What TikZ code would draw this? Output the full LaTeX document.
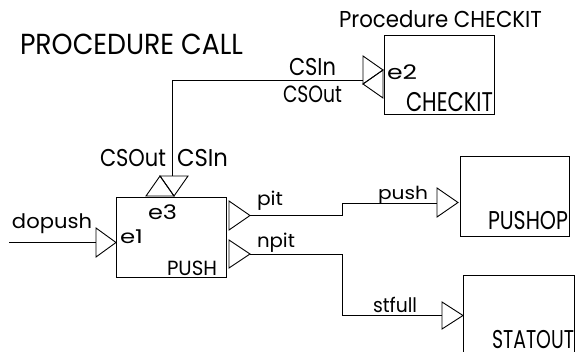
\documentclass[tikz,border=0pt]{standalone}
\usepackage{fontspec}
\usepackage{graphicx}
\setmainfont{Poppins}
\usetikzlibrary{calc}
% #1 = target width (pt), #2 = font size (pt), #3 = text
\newcommand{\fitt}[3]{{\fontsize{#2pt}{#2pt}\selectfont\resizebox{#1pt}{\height}{#3}}}
\tikzset{
  lbl/.style={anchor=base west, inner sep=0pt, outer sep=0pt},
  blk/.style={draw, rectangle, inner sep=0pt, line width=0.9pt},
  wire/.style={line width=0.9pt},
  port/.style={line width=0.9pt, line join=miter}
}
\begin{document}
\begin{tikzpicture}[x=1pt, y=-1pt]
\useasboundingbox (0,0) rectangle (575,352);
\clip (0,0) rectangle (575,352);

% blocks
\node[blk, minimum width=110pt, minimum height=80pt] (pushbox) at (171,237) {};
\node[blk, minimum width=110pt, minimum height=79pt] (checkbox) at (439,74.5) {};
\node[blk, minimum width=109pt, minimum height=80pt] (pushopbox) at (514.5,196) {};
\node[blk, minimum width=111pt, minimum height=90pt] (statbox) at (518.5,320) {};

% ports (triangles)
\draw[port] (96,228) -- (116,242.5) -- (96,257) -- cycle;           % e1
\draw[port] (146,196) -- (160,176) -- (174,196) -- cycle;           % e3 up
\draw[port] (160,176) -- (188,176) -- (174,196) -- cycle;           % e3 down
\draw[port] (363,56) -- (383,70) -- (363,84) -- cycle;              % e2 right
\draw[port] (383,70) -- (383,98) -- (363,84) -- cycle;              % e2 left
\draw[port] (229,201) -- (250,215.5) -- (229,230) -- cycle;         % pit
\draw[port] (229,240) -- (250,254) -- (229,268) -- cycle;           % npit
\draw[port] (437,188) -- (458,202.5) -- (437,217) -- cycle;         % push
\draw[port] (442,302) -- (463,315.5) -- (442,329) -- cycle;         % stfull

% connection points
\coordinate (dpStart) at (9,242.5);
\coordinate (e1In) at (96,242.5);
\coordinate (e3Top) at (172,176);
\coordinate (e2In) at (363,80);
\coordinate (pitOut) at (250,215);
\coordinate (pushIn) at (437,203);
\coordinate (npitOut) at (250,254);
\coordinate (stIn) at (442,315);
\coordinate (bendX) at (342,0);

% connectors
\draw[wire] (dpStart) -- (e1In);
\draw[wire] (e3Top) |- (e2In);
\draw[wire] (pitOut) -- (pitOut -| bendX) |- (pushIn);
\draw[wire] (npitOut) -- (npitOut -| bendX) |- (stIn);

% labels
\node[lbl] (tCall) at (20,55) {\fitt{223}{29}{PROCEDURE CALL}};
\node[lbl] (tProc) at (339,28) {\fitt{203}{23}{Procedure CHECKIT}};
\node[lbl] (tCSInA) at (289,76) {\fitt{47}{24.3}{CSIn}};
\node[lbl] (tCSOutA) at (283,103) {\fitt{59}{23.5}{CSOut}};
\node[lbl] (tCSOutB) at (100,167) {\fitt{66}{24.3}{CSOut}};
\node[lbl] (tCSInB) at (177,167) {\fitt{51}{24.3}{CSIn}};
\node[lbl] (te3) at (148,220) {\fitt{29}{20}{e3}};
\node[lbl] (te1) at (120,244) {\fitt{23}{19}{e1}};
\node[lbl] (tPUSH) at (167,276) {\fitt{50}{20.5}{PUSH}};
\node[lbl] (tdopush) at (12,229) {\fitt{80}{20}{dopush}};
\node[lbl] (tpit) at (257,206) {\fitt{26}{19}{pit}};
\node[lbl] (tnpit) at (257,248) {\fitt{38}{19}{npit}};
\node[lbl] (tpush) at (378,200) {\fitt{50}{18}{push}};
\node[lbl] (tstfull) at (373,312) {\fitt{44}{20}{stfull}};
\node[lbl] (tPUSHOP) at (488,230) {\fitt{80}{25.7}{PUSHOP}};
\node[lbl] (tSTATOUT) at (492,348) {\fitt{82}{25.7}{STATOUT}};
\node[lbl] (tCHECKIT) at (406,112) {\fitt{87}{27}{CHECKIT}};
\node[lbl] (te2) at (387,80) {\fitt{30}{20}{e2}};
\end{tikzpicture}
\end{document}
